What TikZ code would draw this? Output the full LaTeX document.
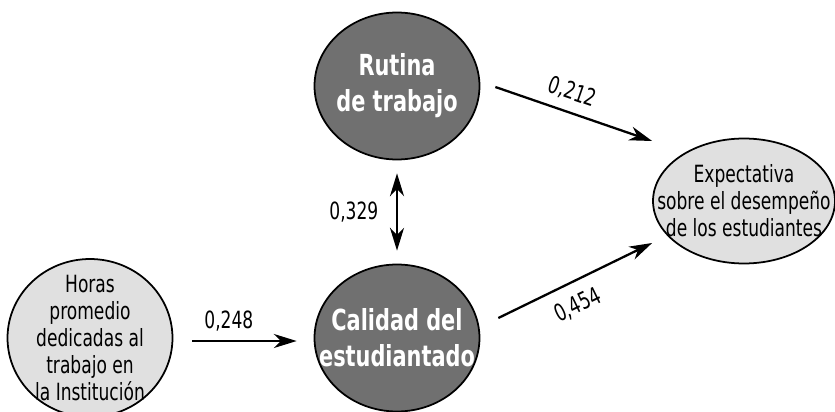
\documentclass[tikz,border=0pt]{standalone}
\usepackage{fontspec}
\setmainfont{DejaVu Sans Condensed}[FakeStretch=0.8]
\usetikzlibrary{arrows.meta,calc,shapes.geometric}

\definecolor{darkfill}{RGB}{112,112,112}
\definecolor{lightfill}{RGB}{224,224,224}

\tikzset{
  latent/.style={ellipse, draw, line width=1pt, fill=darkfill, text=white, align=center,
    font=\fontsize{16.5}{20.5}\selectfont\bfseries, inner xsep=-12pt, inner ysep=0pt,
    minimum width=3.3cm, minimum height=2.94cm},
  observed/.style={ellipse, draw, line width=1pt, fill=lightfill, align=center,
    font=\fontsize{13.5}{15.3}\selectfont, inner sep=0pt},
  tip/.tip={Stealth[length=13pt,width=8pt,inset=4pt]},
  path/.style={line width=1.3pt, -tip},
  coef/.style={font=\fontsize{13.5}{15}\selectfont, inner sep=2pt}
}

\begin{document}
\begin{tikzpicture}[x=0.02cm, y=-0.02cm]
\useasboundingbox (0,0) rectangle (835,412);

% Latent factors
\node[latent] (rutina) at (397,86) {Rutina\\de trabajo};
\node[latent] (calidad) at (397,338) {Calidad del\\estudiantado};

% Observed variables
\node[observed, inner ysep=-11pt, minimum width=3.3cm, minimum height=3.16cm] (horas) at (90,338)
  {Horas\\promedio\\dedicadas al\\trabajo en\\la Institución};
\node[observed, inner xsep=-14pt, minimum width=3.64cm, minimum height=2.5cm] (expect) at (744,201)
  {Expectativa\\sobre el desempeño\\de los estudiantes};

% Paths
\draw[path] ($(horas.east)+(19,3)$) -- ($(calidad.west)+(-17,3)$)
  node[coef, pos=0.35, above=3pt] (c248) {0,248};
\draw[path, tip-tip] ($(rutina.south)+(0,13)$) -- ($(calidad.north)+(0,-13)$)
  node[coef, midway, left=8pt] (c329) {0,329};
\draw[path] ($(rutina.east)+(15,1)$) -- ($(expect.west)+(0,-60)$)
  node[coef, pos=0.45, above=3pt, sloped] (c212) {0,212};
\draw[path] ($(calidad.east)+(18,-20)$) -- ($(expect.west)+(0,42)$)
  node[coef, pos=0.45, below=5pt, sloped] (c454) {0,454};
\end{tikzpicture}
\end{document}
